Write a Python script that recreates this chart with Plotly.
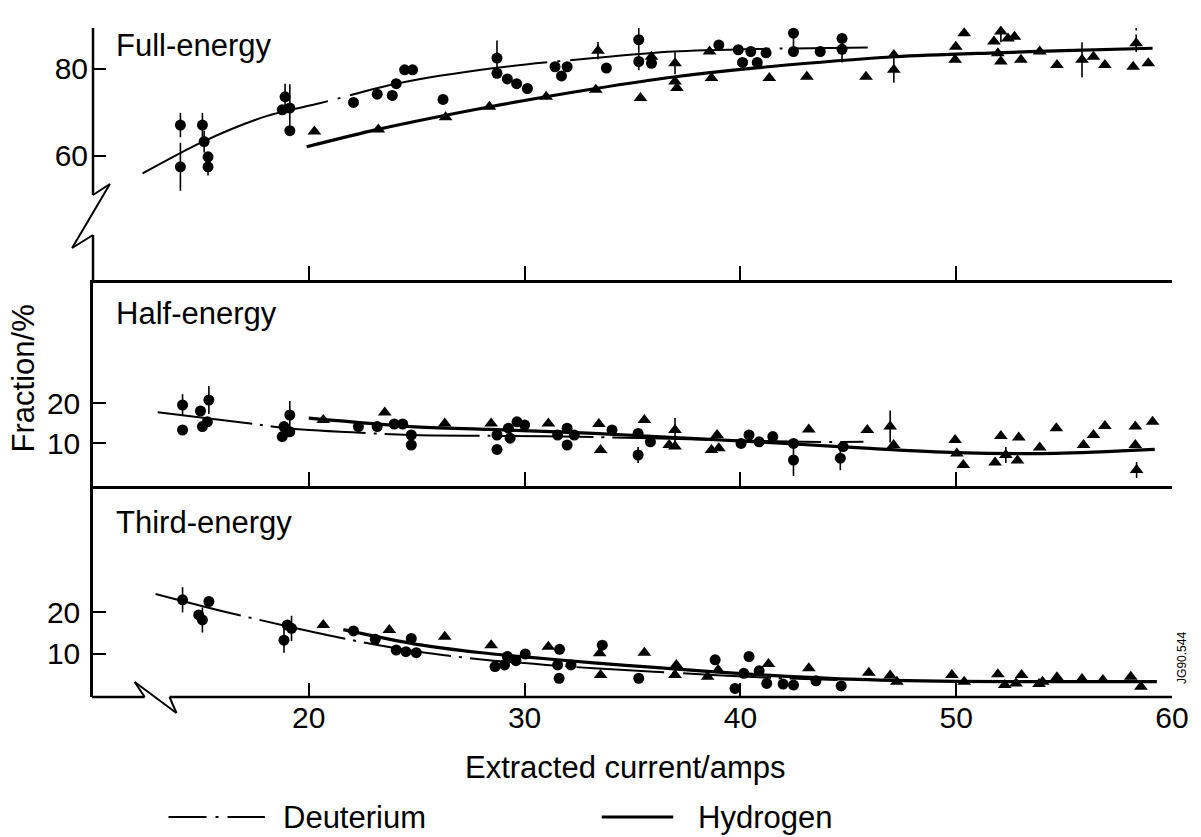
import plotly.graph_objects as go

# ---------------- data ----------------
x_ticks = [20, 30, 40, 50, 60]
x_tick_labels = ["20", "30", "40", "50", "60"]

# Full-energy panel
full_d_x = [14.05, 14.05, 15.07, 15.15, 15.33, 15.33, 18.77, 18.9, 19.12, 19.12, 22.07, 23.17, 23.87, 24.05,
            24.44, 24.81, 26.22, 28.72, 28.72, 29.2, 29.63, 30.13, 31.41, 31.71, 31.97, 33.79, 35.29, 35.29,
            35.88, 39.0, 39.9, 40.1, 40.48, 40.78, 41.19, 42.46, 42.46, 43.7, 44.71, 44.71]
full_d_y = [67.1, 57.5, 67.1, 63.3, 59.8, 57.5, 70.6, 73.6, 71.0, 65.8, 72.3, 74.2, 73.9, 76.6,
            79.8, 79.8, 73.0, 82.5, 79.0, 77.7, 76.6, 75.5, 80.5, 78.4, 80.5, 80.2, 86.7, 81.7,
            81.3, 85.5, 84.4, 81.5, 84.0, 81.5, 83.7, 88.2, 84.0, 84.0, 87.0, 84.5]
full_d_err = [2.8, 5.5, 2.8, 2.5, 0, 2.0, 0, 3.0, 5.5, 0, 0, 0, 0, 0,
              0, 0, 0, 4.0, 0, 0, 0, 0, 0, 0, 0, 0, 3.0, 2.0,
              0, 0, 0, 0, 0, 0, 0, 3.5, 0, 0, 0, 3.0]
full_h_x = [20.26, 23.22, 26.34, 28.37, 31.0, 33.3, 33.4, 35.37, 35.88, 36.97, 36.97, 37.06, 38.57, 38.66,
            41.34, 43.08, 45.82, 47.11, 47.11, 49.95, 49.98, 50.37, 51.75, 51.93, 52.07, 52.07, 52.4, 52.7,
            53.0, 53.87, 54.67, 55.83, 56.36, 56.89, 58.2, 58.34, 58.34, 58.9]
full_h_y = [65.6, 66.1, 68.9, 71.3, 73.6, 75.2, 84.2, 73.3, 82.8, 81.3, 77.1, 75.6, 84.0, 77.9,
            77.9, 78.2, 78.2, 83.2, 79.8, 82.1, 85.1, 88.2, 86.3, 83.6, 88.6, 81.7, 87.0, 87.4,
            82.1, 84.0, 80.9, 82.1, 82.8, 80.9, 80.5, 91.3, 85.9, 81.3]
full_h_err = [0, 0, 0, 0, 0, 0, 2.0, 0, 0, 2.5, 0, 0, 0, 0,
              0, 0, 0, 0, 3.0, 0, 0, 0, 0, 0, 2.5, 0, 0, 0,
              0, 0, 0, 4.0, 0, 0, 0, 2.5, 2.0, 0]
full_d_fit_x = [12.3, 15.1, 18.07, 20.5, 24.05, 28.6, 33.2, 36.9, 41.0, 45.9]
full_d_fit_y = [56.0, 63.3, 69.2, 72.1, 76.6, 80.2, 82.5, 84.0, 84.6, 84.9]
full_h_fit_x = [19.9, 23.2, 28.4, 33.3, 37.0, 41.3, 47.2, 51.9, 55.0, 59.1]
full_h_fit_y = [62.1, 66.1, 71.3, 75.5, 78.2, 80.5, 82.8, 83.7, 84.2, 84.75]

# Half-energy panel
half_d_x = [14.15, 14.15, 14.98, 15.07, 15.37, 15.3, 18.77, 18.85, 19.12, 19.12, 22.3, 23.17, 23.96, 24.35,
            24.75, 24.75, 28.72, 28.72, 29.25, 29.33, 29.65, 30.0, 31.53, 31.97, 31.97, 32.3, 34.05, 35.26,
            35.26, 35.83, 40.03, 40.4, 40.87, 41.5, 42.46, 42.46, 44.76, 44.63]
half_d_y = [19.5, 13.25, 18.0, 14.1, 20.75, 15.3, 11.6, 14.1, 17.0, 12.8, 14.1, 14.1, 14.75, 14.75,
            12.0, 9.5, 12.0, 8.4, 13.7, 11.2, 15.3, 14.5, 12.0, 13.7, 9.5, 12.0, 13.25, 12.4,
            7.0, 10.3, 9.9, 12.0, 10.3, 11.6, 9.9, 5.75, 9.1, 6.2]
half_d_err = [2.7, 0, 0, 0, 3.5, 0, 0, 0, 3.5, 0, 0, 0, 0, 0,
              0, 0, 0, 0, 0, 0, 0, 0, 0, 0, 0, 0, 0, 0,
              2.0, 0, 0, 0, 0, 0, 0, 4.0, 0, 3.0]
half_h_x = [20.67, 23.52, 26.3, 28.45, 31.1, 33.44, 33.52, 35.55, 36.97, 36.7, 36.97, 38.92, 38.66, 39.0,
            43.17, 45.88, 46.94, 47.1, 49.95, 50.03, 50.33, 52.07, 52.9, 51.8, 52.3, 52.84, 53.87, 54.64,
            55.9, 56.36, 56.89, 58.3, 58.3, 58.36, 59.1]
half_h_y = [15.75, 17.6, 14.9, 14.9, 14.9, 14.75, 8.25, 15.75, 13.25, 9.5, 9.1, 12.0, 8.25, 8.7,
            13.4, 13.25, 14.1, 9.5, 10.75, 7.4, 4.5, 11.75, 11.4, 5.1, 7.0, 5.6, 8.9, 13.7,
            9.5, 12.0, 14.25, 14.1, 9.5, 3.25, 15.3]
half_h_err = [0, 0, 0, 0, 0, 0, 0, 0, 3.0, 0, 0, 0, 0, 0,
              0, 0, 4.0, 0, 0, 0, 0, 0, 0, 0, 2.0, 0, 0, 0,
              0, 0, 0, 0, 0, 2.0, 0]
half_d_fit_x = [13.0, 17.45, 19.1, 24.75, 28.4, 33.2, 38.6, 42.9, 45.7]
half_d_fit_y = [17.7, 14.75, 13.6, 12.0, 11.8, 11.5, 10.8, 10.3, 10.3]
half_h_fit_x = [20.0, 24.75, 28.4, 33.2, 38.6, 42.5, 45.8, 50.0, 54.6, 59.2]
half_h_fit_y = [16.2, 14.1, 13.4, 12.4, 10.9, 9.75, 8.7, 7.6, 7.4, 8.4]

# Third-energy panel
third_d_x = [14.15, 14.9, 15.07, 15.37, 18.85, 19.0, 19.2, 22.07, 23.08, 24.05, 24.5, 24.98, 24.75, 28.63,
             29.07, 29.2, 29.6, 30.03, 31.53, 31.6, 31.62, 32.15, 33.6, 35.29, 38.83, 40.4, 40.16, 39.75,
             40.87, 41.22, 41.98, 42.46, 43.5, 44.67]
third_d_y = [22.9, 19.3, 18.1, 22.5, 13.3, 16.9, 16.1, 15.5, 13.5, 10.95, 10.55, 10.3, 13.7, 7.0,
             7.4, 9.4, 8.4, 10.0, 7.4, 4.2, 11.1, 7.4, 12.1, 4.2, 8.6, 9.4, 5.4, 1.8,
             6.0, 3.0, 2.85, 2.6, 3.6, 2.4]
third_d_err = [3.0, 0, 3.0, 0, 3.0, 0, 3.0, 0, 0, 0, 0, 0, 0, 0,
               0, 0, 0, 0, 0, 0, 0, 0, 0, 0, 0, 0, 0, 0,
               0, 0, 0, 0, 0, 0]
third_h_x = [20.67, 23.73, 26.3, 28.45, 31.1, 33.48, 33.52, 35.55, 37.03, 36.97, 38.97, 38.48, 41.3, 43.17,
             45.95, 46.94, 47.25, 49.8, 50.37, 51.93, 52.25, 52.77, 53.03, 53.84, 54.0, 54.67, 55.83, 56.8,
             58.09, 58.56]
third_h_y = [16.9, 15.7, 14.1, 12.1, 11.7, 10.2, 5.0, 10.3, 7.4, 5.0, 6.2, 4.6, 7.6, 6.6,
             5.55, 4.85, 3.4, 5.0, 3.4, 5.2, 2.6, 3.0, 5.0, 2.85, 3.4, 4.45, 4.05, 3.8,
             4.6, 2.2]
third_d_fit_x = [12.9, 16.0, 19.1, 22.0, 25.0, 28.0, 31.0, 33.2, 36.0, 38.7, 41.5, 44.5]
third_d_fit_y = [24.3, 20.2, 16.5, 13.3, 10.6, 8.7, 7.4, 6.6, 5.8, 5.0, 4.3, 3.8]
third_h_fit_x = [21.6, 25.0, 28.0, 30.0, 33.2, 36.0, 40.4, 45.0, 50.0, 55.0, 59.3]
third_h_fit_y = [15.8, 12.3, 10.3, 9.3, 7.9, 6.8, 5.2, 4.0, 3.5, 3.4, 3.4]

panel_names = ["Full-energy", "Half-energy", "Third-energy"]
y_ticks = [[60, 80], [10, 20], [10, 20]]

# ---------------- layout helpers ----------------
W, H = 1201, 837
L, R, T, B = 93, 22, 28, 140
PW, PH = W - L - R, H - T - B


def px(x):
    return (x - L) / PW


def py(y):
    return (H - B - y) / PH


FONT = "Liberation Sans, Arial, Helvetica, sans-serif"
BLACK = "black"
TXT = 31
TICK = 30

fig = go.Figure()


def add_points(x, y, err, symbol, size, xa, ya):
    kw = {}
    if err is not None:
        kw["error_y"] = dict(type="data", array=err, symmetric=True, width=0,
                             thickness=1.6, color=BLACK)
    fig.add_trace(go.Scatter(x=x, y=y, mode="markers", xaxis=xa, yaxis=ya,
                             marker=dict(symbol=symbol, size=size, color=BLACK,
                                         line=dict(width=0)),
                             cliponaxis=False, showlegend=False, **kw))


def add_fit(x, y, width, dash, xa, ya):
    fig.add_trace(go.Scatter(x=x, y=y, mode="lines", xaxis=xa, yaxis=ya,
                             line=dict(color=BLACK, width=width, dash=dash, shape="spline",
                                       smoothing=0.8),
                             showlegend=False, hoverinfo="skip"))


# top panel
add_fit(full_d_fit_x, full_d_fit_y, 2, "200px,10px,3px,10px", "x", "y")
add_fit(full_h_fit_x, full_h_fit_y, 3.2, "solid", "x", "y")
add_points(full_d_x, full_d_y, full_d_err, "circle", 11, "x", "y")
add_points(full_h_x, full_h_y, full_h_err, "triangle-up", 12, "x", "y")
# middle panel
add_fit(half_d_fit_x, half_d_fit_y, 2, "95px,8px,3px,8px", "x2", "y2")
add_fit(half_h_fit_x, half_h_fit_y, 3.2, "solid", "x2", "y2")
add_points(half_d_x, half_d_y, half_d_err, "circle", 11, "x2", "y2")
add_points(half_h_x, half_h_y, half_h_err, "triangle-up", 12, "x2", "y2")
# bottom panel
add_fit(third_d_fit_x, third_d_fit_y, 2, "88px,8px,3px,8px", "x3", "y3")
add_fit(third_h_fit_x, third_h_fit_y, 3.2, "solid", "x3", "y3")
add_points(third_d_x, third_d_y, third_d_err, "circle", 11, "x3", "y3")
add_points(third_h_x, third_h_y, None, "triangle-up", 12, "x3", "y3")

# panel domains (pixel rows 28-280, 280-486, 486-697)
dom_top = [py(280), 1.0]
dom_mid = [py(486), py(280)]
dom_bot = [0.0, py(486)]

xcommon = dict(range=[10, 60], domain=[0, 1], tickvals=x_ticks, ticktext=x_tick_labels,
               ticks="inside", ticklen=14, tickwidth=2, tickcolor=BLACK,
               showgrid=False, zeroline=False, linecolor=BLACK, linewidth=2.5,
               tickfont=dict(family=FONT, size=TICK, color=BLACK))
ycommon = dict(ticks="inside", ticklen=13, tickwidth=2, tickcolor=BLACK,
               showgrid=False, zeroline=False, linecolor=BLACK, linewidth=2.5,
               ticklabelstandoff=4,
               tickfont=dict(family=FONT, size=TICK, color=BLACK))

fig.update_layout(
    width=W, height=H,
    margin=dict(l=L, r=R, t=T, b=B, pad=0),
    paper_bgcolor="white", plot_bgcolor="white",
    font=dict(family=FONT, size=TXT, color=BLACK),
    showlegend=False,
    xaxis=dict(**xcommon, anchor="y", showline=True, showticklabels=False),
    xaxis2=dict(**xcommon, anchor="y2", showline=True, showticklabels=False),
    xaxis3=dict(**xcommon, anchor="y3", showline=False, showticklabels=True),
    yaxis=dict(**ycommon, domain=dom_top, range=[31.5, 89.4], tickvals=y_ticks[0],
               anchor="x", showline=False),
    yaxis2=dict(**ycommon, domain=dom_mid, range=[-0.75, 50.75], tickvals=y_ticks[1],
                anchor="x2", showline=True),
    yaxis3=dict(**ycommon, domain=dom_bot, range=[-0.24, 50.0], tickvals=y_ticks[2],
                anchor="x3", showline=True),
)

# ---------- broken axes drawn as line segments ----------
def seg(x0, y0, x1, y1, w=2.5):
    fig.add_shape(type="line", xref="paper", yref="paper",
                  x0=px(x0), y0=py(y0), x1=px(x1), y1=py(y1),
                  line=dict(color=BLACK, width=w))


# top y-axis with break
seg(93, 28, 93, 195)
seg(93, 195, 110, 184, 2)
seg(110, 184, 72, 248, 2)
seg(72, 248, 93, 235, 2)
seg(93, 235, 93, 281)
# bottom x-axis with break
seg(92, 697, 145, 697)
seg(145, 697, 135, 682, 2)
seg(135, 682, 177, 713, 2)
seg(177, 713, 170, 697, 2)
seg(170, 697, 1179, 697)

# ---------- text ----------
def text(s, x, y, size=TXT, xanchor="left", angle=0):
    fig.add_annotation(text=s, xref="paper", yref="paper", x=px(x), y=py(y),
                       xanchor=xanchor, yanchor="middle", showarrow=False,
                       textangle=angle, font=dict(family=FONT, size=size, color=BLACK))


text(panel_names[0], 114, 46)
text(panel_names[1], 114, 313)
text(panel_names[2], 114, 522)
text("Extracted current/amps", 628, 767, xanchor="center")
text("Fraction/%", 23, 378, xanchor="center", angle=-90)
text("JG90.544", 1189, 658, size=12, xanchor="center", angle=-90)

# legend (drawn)
fig.add_shape(type="line", xref="paper", yref="paper",
              x0=px(169), y0=py(817), x1=px(266), y1=py(817),
              line=dict(color=BLACK, width=2, dash="38px,9px,3px,9px"))
text("Deuterium", 282, 817)
seg(605, 817, 677, 817, 3)
text("Hydrogen", 700, 817)

fig.write_html("out.html",
               config={"displayModeBar": False},
               post_script="document.body.style.margin='0px';document.body.style.overflow='hidden';")
